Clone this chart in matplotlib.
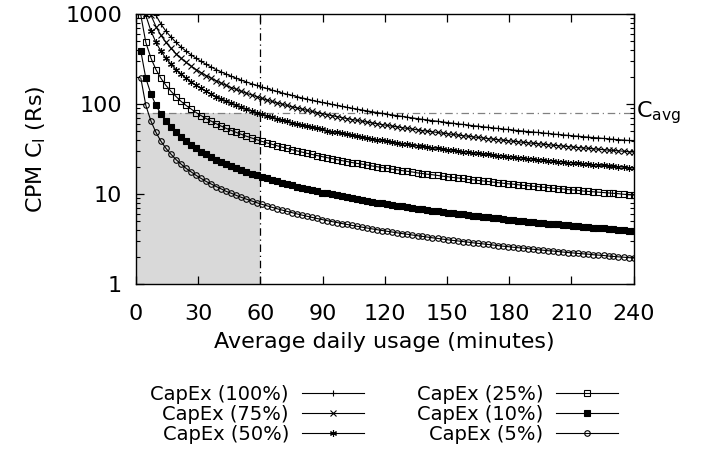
import numpy as np
import matplotlib
matplotlib.use("Agg")
import matplotlib.pyplot as plt
from matplotlib.patches import Rectangle

# average daily usage (minutes), sampled like gnuplot's 100 samples over [0:240]
minutes = [
    2.4, 4.8, 7.3, 9.7, 12.1, 14.5, 17.0, 19.4, 21.8, 24.2,
    26.7, 29.1, 31.5, 33.9, 36.4, 38.8, 41.2, 43.6, 46.1, 48.5,
    50.9, 53.3, 55.8, 58.2, 60.6, 63.0, 65.5, 67.9, 70.3, 72.7,
    75.2, 77.6, 80.0, 82.4, 84.8, 87.3, 89.7, 92.1, 94.5, 97.0,
    99.4, 101.8, 104.2, 106.7, 109.1, 111.5, 113.9, 116.4, 118.8, 121.2,
    123.6, 126.1, 128.5, 130.9, 133.3, 135.8, 138.2, 140.6, 143.0, 145.5,
    147.9, 150.3, 152.7, 155.2, 157.6, 160.0, 162.4, 164.8, 167.3, 169.7,
    172.1, 174.5, 177.0, 179.4, 181.8, 184.2, 186.7, 189.1, 191.5, 193.9,
    196.4, 198.8, 201.2, 203.6, 206.1, 208.5, 210.9, 213.3, 215.8, 218.2,
    220.6, 223.0, 225.5, 227.9, 230.3, 232.7, 235.2, 237.6, 240.0]

# CPM (Rs) per CapEx share
cpm_100 = [
    3861, 1931, 1287, 965, 772, 644, 552, 483, 429, 386,
    351, 322, 297, 276, 257, 241, 227, 215, 203, 193,
    184, 176, 168, 161, 154, 149, 143, 138, 133, 129,
    125, 121, 117, 114, 110, 107, 104, 102, 99.0, 96.5,
    94.2, 91.9, 89.8, 87.8, 85.8, 83.9, 82.1, 80.4, 78.8, 77.2,
    75.7, 74.3, 72.8, 71.5, 70.2, 68.9, 67.7, 66.6, 65.4, 64.4,
    63.3, 62.3, 61.3, 60.3, 59.4, 58.5, 57.6, 56.8, 56.0, 55.2,
    54.4, 53.6, 52.9, 52.2, 51.5, 50.8, 50.1, 49.5, 48.9, 48.3,
    47.7, 47.1, 46.5, 46.0, 45.4, 44.9, 44.4, 43.9, 43.4, 42.9,
    42.4, 42.0, 41.5, 41.1, 40.6, 40.2, 39.8, 39.4, 39.0]
cpm_75 = [
    2896, 1448, 965, 724, 579, 483, 414, 362, 322, 290,
    263, 241, 223, 207, 193, 181, 170, 161, 152, 145,
    138, 132, 126, 121, 116, 111, 107, 103, 99.9, 96.5,
    93.4, 90.5, 87.8, 85.2, 82.7, 80.4, 78.3, 76.2, 74.3, 72.4,
    70.6, 68.9, 67.3, 65.8, 64.4, 63.0, 61.6, 60.3, 59.1, 57.9,
    56.8, 55.7, 54.6, 53.6, 52.7, 51.7, 50.8, 49.9, 49.1, 48.3,
    47.5, 46.7, 46.0, 45.2, 44.6, 43.9, 43.2, 42.6, 42.0, 41.4,
    40.8, 40.2, 39.7, 39.1, 38.6, 38.1, 37.6, 37.1, 36.7, 36.2,
    35.8, 35.3, 34.9, 34.5, 34.1, 33.7, 33.3, 32.9, 32.5, 32.2,
    31.8, 31.5, 31.1, 30.8, 30.5, 30.2, 29.9, 29.5, 29.3]
cpm_50 = [
    1931, 965, 644, 483, 386, 322, 276, 241, 215, 193,
    176, 161, 149, 138, 129, 121, 114, 107, 102, 96.5,
    91.9, 87.8, 83.9, 80.4, 77.2, 74.3, 71.5, 68.9, 66.6, 64.4,
    62.3, 60.3, 58.5, 56.8, 55.2, 53.6, 52.2, 50.8, 49.5, 48.3,
    47.1, 46.0, 44.9, 43.9, 42.9, 42.0, 41.1, 40.2, 39.4, 38.6,
    37.9, 37.1, 36.4, 35.8, 35.1, 34.5, 33.9, 33.3, 32.7, 32.2,
    31.6, 31.1, 30.6, 30.2, 29.7, 29.3, 28.8, 28.4, 28.0, 27.6,
    27.2, 26.8, 26.4, 26.1, 25.7, 25.4, 25.1, 24.8, 24.4, 24.1,
    23.8, 23.5, 23.3, 23.0, 22.7, 22.4, 22.2, 21.9, 21.7, 21.5,
    21.2, 21.0, 20.8, 20.5, 20.3, 20.1, 19.9, 19.7, 19.5]
cpm_25 = [
    965, 483, 322, 241, 193, 161, 138, 121, 107, 96.5,
    87.8, 80.4, 74.3, 68.9, 64.4, 60.3, 56.8, 53.6, 50.8, 48.3,
    46.0, 43.9, 42.0, 40.2, 38.6, 37.1, 35.8, 34.5, 33.3, 32.2,
    31.1, 30.2, 29.3, 28.4, 27.6, 26.8, 26.1, 25.4, 24.8, 24.1,
    23.5, 23.0, 22.4, 21.9, 21.5, 21.0, 20.5, 20.1, 19.7, 19.3,
    18.9, 18.6, 18.2, 17.9, 17.6, 17.2, 16.9, 16.6, 16.4, 16.1,
    15.8, 15.6, 15.3, 15.1, 14.9, 14.6, 14.4, 14.2, 14.0, 13.8,
    13.6, 13.4, 13.2, 13.0, 12.9, 12.7, 12.5, 12.4, 12.2, 12.1,
    11.9, 11.8, 11.6, 11.5, 11.4, 11.2, 11.1, 11.0, 10.8, 10.7,
    10.6, 10.5, 10.4, 10.3, 10.2, 10.1, 9.95, 9.85, 9.75]
cpm_10 = [
    386, 193, 129, 96.5, 77.2, 64.4, 55.2, 48.3, 42.9, 38.6,
    35.1, 32.2, 29.7, 27.6, 25.7, 24.1, 22.7, 21.5, 20.3, 19.3,
    18.4, 17.6, 16.8, 16.1, 15.4, 14.9, 14.3, 13.8, 13.3, 12.9,
    12.5, 12.1, 11.7, 11.4, 11.0, 10.7, 10.4, 10.2, 9.90, 9.65,
    9.42, 9.19, 8.98, 8.78, 8.58, 8.39, 8.21, 8.04, 7.88, 7.72,
    7.57, 7.43, 7.28, 7.15, 7.02, 6.89, 6.77, 6.66, 6.54, 6.44,
    6.33, 6.23, 6.13, 6.03, 5.94, 5.85, 5.76, 5.68, 5.60, 5.52,
    5.44, 5.36, 5.29, 5.22, 5.15, 5.08, 5.01, 4.95, 4.89, 4.83,
    4.77, 4.71, 4.65, 4.60, 4.54, 4.49, 4.44, 4.39, 4.34, 4.29,
    4.24, 4.20, 4.15, 4.11, 4.06, 4.02, 3.98, 3.94, 3.90]
cpm_5 = [
    193, 96.5, 64.4, 48.3, 38.6, 32.2, 27.6, 24.1, 21.5, 19.3,
    17.6, 16.1, 14.9, 13.8, 12.9, 12.1, 11.4, 10.7, 10.2, 9.65,
    9.19, 8.78, 8.39, 8.04, 7.72, 7.43, 7.15, 6.89, 6.66, 6.44,
    6.23, 6.03, 5.85, 5.68, 5.52, 5.36, 5.22, 5.08, 4.95, 4.83,
    4.71, 4.60, 4.49, 4.39, 4.29, 4.20, 4.11, 4.02, 3.94, 3.86,
    3.79, 3.71, 3.64, 3.58, 3.51, 3.45, 3.39, 3.33, 3.27, 3.22,
    3.16, 3.11, 3.06, 3.02, 2.97, 2.93, 2.88, 2.84, 2.80, 2.76,
    2.72, 2.68, 2.64, 2.61, 2.57, 2.54, 2.51, 2.48, 2.44, 2.41,
    2.38, 2.35, 2.33, 2.30, 2.27, 2.24, 2.22, 2.19, 2.17, 2.15,
    2.12, 2.10, 2.08, 2.05, 2.03, 2.01, 1.99, 1.97, 1.95]

labels = ["CapEx (100%)", "CapEx (75%)", "CapEx (50%)",
          "CapEx (25%)", "CapEx (10%)", "CapEx (5%)"]
c_avg = 80
usage_cut = 60
x_ticks = [0, 30, 60, 90, 120, 150, 180, 210, 240]
y_ticks = [1, 10, 100, 1000]

series = [cpm_100, cpm_75, cpm_50, cpm_25, cpm_10, cpm_5]
# (marker, size, facecolor)
styles = [("+", 5, "k"), ("x", 4, "k"), ((6, 2, 0), 5, "k"),
          ("s", 4, "none"), ("s", 4.5, "k"), ("o", 4, "none")]

plt.rcParams['font.family'] = 'DejaVu Sans'
fig = plt.figure(figsize=(7.04, 4.51), dpi=100)
ax = fig.add_axes((0.193, 0.370, 0.707, 0.599))

# shaded region below C_avg for usage < 60 min
ax.add_patch(Rectangle((0, 1), usage_cut, c_avg - 1, facecolor='#d9d9d9',
                       edgecolor='none', zorder=0))
ax.axhline(c_avg, color='#808080', lw=0.9, ls=(0, (6, 3, 1, 3)), zorder=1)
ax.axvline(usage_cut, color='k', lw=0.9, ls=(0, (6, 3, 1, 3)), zorder=1)

for vals, lab, (m, ms, fc) in zip(series, labels, styles):
    ax.plot(minutes, vals, color='k', lw=0.8, marker=m, markersize=ms,
            markerfacecolor=fc, markeredgecolor='k', markeredgewidth=0.8,
            label=lab, zorder=3)

ax.set_yscale('log')
ax.set_xlim(0, 240)
ax.set_ylim(1, 1000)
ax.set_xticks(x_ticks)
ax.set_yticks(y_ticks)
ax.set_yticklabels([str(t) for t in y_ticks])
ax.tick_params(which='both', direction='in', top=True, right=True,
               labelsize=16)
ax.tick_params(which='major', length=6, width=0.9, pad=10)
ax.tick_params(which='minor', length=3, width=0.8)
ax.tick_params(axis='x', pad=14)
for s in ax.spines.values():
    s.set_linewidth(1.0)

ax.set_xlabel("Average daily usage (minutes)", fontsize=16, labelpad=6)
ax.set_ylabel(r"CPM C$_\mathregular{l}$ (Rs)", fontsize=16, labelpad=12)
ax.text(241, c_avg, r"C$_\mathregular{avg}$", fontsize=16, va='center',
        ha='left', clip_on=False)

ax.legend(loc='upper center', bbox_to_anchor=(0.546, 0.186),
          bbox_transform=fig.transFigure, ncol=2, frameon=False,
          markerfirst=False, fontsize=14, handlelength=3.2,
          handletextpad=0.67, columnspacing=2.7, labelspacing=0.05,
          numpoints=1)

fig.savefig("out.png", dpi=100)
